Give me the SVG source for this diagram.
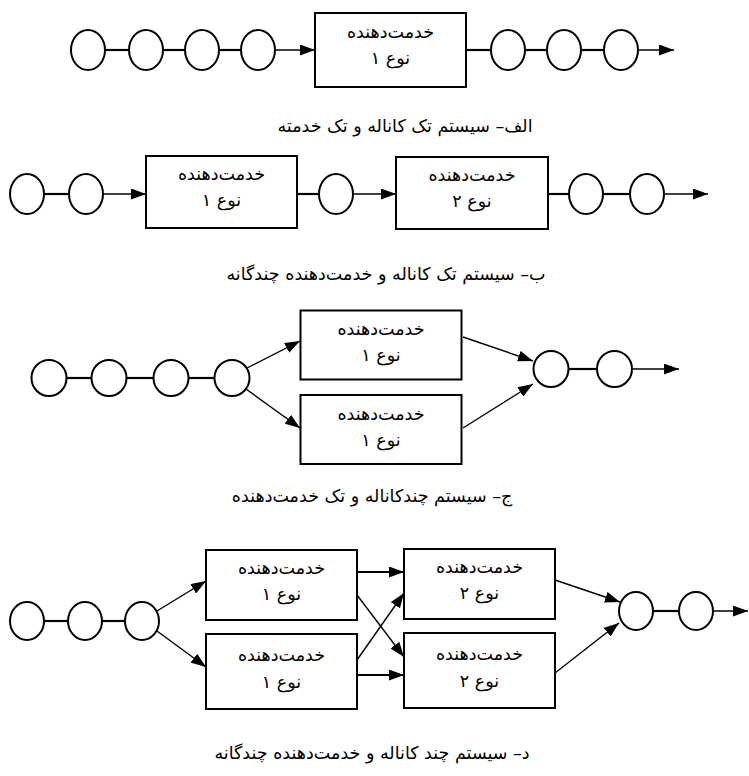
<svg xmlns="http://www.w3.org/2000/svg" width="749" height="776" viewBox="0 0 749 776">
<style>
.c{fill:#fff;stroke:#000;stroke-width:2}
.b{fill:#fff;stroke:#000;stroke-width:2}
.l{stroke:#000;stroke-width:2.2;fill:none}
.a{stroke:#000;stroke-width:1.4;fill:none;marker-end:url(#ah)}
.ah2{stroke:#000;stroke-width:2.2;fill:none;marker-end:url(#ah)}
.t{font-family:"DejaVu Sans","Noto Sans",sans-serif;font-size:17.5px;fill:#000;text-anchor:middle;direction:rtl;unicode-bidi:embed}
.cap{font-family:"DejaVu Sans","Noto Sans",sans-serif;font-size:17.5px;fill:#000;text-anchor:middle;direction:rtl;unicode-bidi:embed}
</style>
<defs>
<marker id="ah" markerUnits="userSpaceOnUse" viewBox="0 0 15 11" markerWidth="15" markerHeight="11" refX="15" refY="5.5" orient="auto">
<path d="M0,0 L15,5.5 L0,11 z" fill="#000"/>
</marker>
</defs>
<rect width="749" height="776" fill="#fff"/>

<!-- Section A -->
<g id="connectors-a">
<line class="l" x1="105" y1="50" x2="129" y2="50"/>
<line class="l" x1="163" y1="50" x2="185" y2="50"/>
<line class="l" x1="219" y1="50" x2="241" y2="50"/>
<line class="a" x1="275" y1="50" x2="315" y2="50"/>
<line class="l" x1="466" y1="50" x2="491" y2="50"/>
<line class="l" x1="525" y1="50" x2="547" y2="50"/>
<line class="l" x1="581" y1="50" x2="604" y2="50"/>
<line class="a" x1="638" y1="50" x2="674" y2="50"/>
</g>
<g id="a-q1"><ellipse class="c" cx="88" cy="50" rx="17" ry="20"/></g>
<g id="a-q2"><ellipse class="c" cx="146" cy="50" rx="17" ry="20"/></g>
<g id="a-q3"><ellipse class="c" cx="202" cy="50" rx="17" ry="20"/></g>
<g id="a-q4"><ellipse class="c" cx="258" cy="50" rx="17" ry="20"/></g>
<g id="a-server"><rect class="b" x="315" y="13" width="151" height="74"/>
<text class="t" x="390.5" y="38">خدمت‌دهنده</text><text class="t" x="390.5" y="64">نوع ۱</text></g>
<g id="a-o1"><ellipse class="c" cx="508" cy="50" rx="17" ry="20"/></g>
<g id="a-o2"><ellipse class="c" cx="564" cy="50" rx="17" ry="20"/></g>
<g id="a-o3"><ellipse class="c" cx="621" cy="50" rx="17" ry="20"/></g>
<text class="cap" x="405" y="132">الف– سیستم تک کاناله و تک خدمته</text>

<!-- Section B -->
<g id="connectors-b">
<line class="l" x1="44" y1="194" x2="69" y2="194"/>
<line class="a" x1="103" y1="194" x2="146" y2="194"/>
<line class="l" x1="297" y1="194" x2="319" y2="194"/>
<line class="a" x1="353" y1="194" x2="396" y2="194"/>
<line class="l" x1="548" y1="194" x2="569" y2="194"/>
<line class="l" x1="603" y1="194" x2="630" y2="194"/>
<line class="a" x1="664" y1="194" x2="708" y2="194"/>
</g>
<g id="b-q1"><ellipse class="c" cx="27" cy="194" rx="17" ry="20"/></g>
<g id="b-q2"><ellipse class="c" cx="86" cy="194" rx="17" ry="20"/></g>
<g id="b-server1"><rect class="b" x="146" y="156" width="151" height="72"/>
<text class="t" x="221.5" y="180">خدمت‌دهنده</text><text class="t" x="221.5" y="206">نوع ۱</text></g>
<g id="b-q3"><ellipse class="c" cx="336" cy="194" rx="17" ry="20"/></g>
<g id="b-server2"><rect class="b" x="396" y="157" width="152" height="72"/>
<text class="t" x="472" y="181">خدمت‌دهنده</text><text class="t" x="472" y="207">نوع ۲</text></g>
<g id="b-o1"><ellipse class="c" cx="586" cy="194" rx="17" ry="20"/></g>
<g id="b-o2"><ellipse class="c" cx="647" cy="194" rx="17" ry="20"/></g>
<text class="cap" x="386" y="280">ب– سیستم تک کاناله و خدمت‌دهنده چندگانه</text>

<!-- Section C -->
<g id="connectors-c">
<line class="l" x1="66.5" y1="378" x2="91.5" y2="378"/>
<line class="l" x1="126.5" y1="378" x2="153.5" y2="378"/>
<line class="l" x1="188.5" y1="378" x2="214.5" y2="378"/>
<line class="a" x1="247" y1="368" x2="300" y2="341"/>
<line class="a" x1="246" y1="389" x2="300" y2="428"/>
<line class="a" x1="463" y1="337" x2="533" y2="361"/>
<line class="a" x1="463" y1="428" x2="533" y2="384"/>
<line class="l" x1="568.5" y1="369" x2="597" y2="369"/>
<line class="a" x1="632" y1="369" x2="679" y2="369"/>
</g>
<g id="c-q1"><ellipse class="c" cx="49" cy="378" rx="17.5" ry="18"/></g>
<g id="c-q2"><ellipse class="c" cx="109" cy="378" rx="17.5" ry="18"/></g>
<g id="c-q3"><ellipse class="c" cx="171" cy="378" rx="17.5" ry="18"/></g>
<g id="c-q4"><ellipse class="c" cx="232" cy="378" rx="17.5" ry="18"/></g>
<g id="c-server1"><rect class="b" x="300.5" y="310.5" width="161" height="69"/>
<text class="t" x="381" y="335">خدمت‌دهنده</text><text class="t" x="381" y="361">نوع ۱</text></g>
<g id="c-server2"><rect class="b" x="300.5" y="395" width="161" height="69"/>
<text class="t" x="381" y="420">خدمت‌دهنده</text><text class="t" x="381" y="446">نوع ۱</text></g>
<g id="c-o1"><ellipse class="c" cx="551" cy="369" rx="17.5" ry="18"/></g>
<g id="c-o2"><ellipse class="c" cx="614.5" cy="369" rx="17.5" ry="18"/></g>
<text class="cap" x="372" y="502">ج– سیستم چندکاناله و تک خدمت‌دهنده</text>

<!-- Section D -->
<g id="connectors-d">
<line class="l" x1="44" y1="621" x2="68" y2="621"/>
<line class="l" x1="102" y1="621" x2="125" y2="621"/>
<line class="a" x1="157" y1="611" x2="206" y2="581"/>
<line class="a" x1="157" y1="631" x2="206" y2="667"/>
<line class="ah2" x1="357" y1="572" x2="404" y2="572"/>
<line class="ah2" x1="357" y1="675" x2="404" y2="675"/>
<line class="a" x1="357" y1="595" x2="404" y2="657"/>
<line class="a" x1="357" y1="660" x2="404" y2="593"/>
<line class="a" x1="555" y1="580" x2="620" y2="602"/>
<line class="a" x1="555" y1="673" x2="619" y2="623"/>
<line class="l" x1="653" y1="611" x2="679" y2="611"/>
<line class="a" x1="713" y1="611" x2="748" y2="611"/>
</g>
<g id="d-q1"><ellipse class="c" cx="27" cy="621" rx="17" ry="19"/></g>
<g id="d-q2"><ellipse class="c" cx="85" cy="621" rx="17" ry="19"/></g>
<g id="d-q3"><ellipse class="c" cx="142" cy="621" rx="17" ry="19"/></g>
<g id="d-server1a"><rect class="b" x="206" y="550" width="151" height="70"/>
<text class="t" x="281.5" y="574">خدمت‌دهنده</text><text class="t" x="281.5" y="600">نوع ۱</text></g>
<g id="d-server1b"><rect class="b" x="206" y="634" width="151" height="75"/>
<text class="t" x="281.5" y="661">خدمت‌دهنده</text><text class="t" x="281.5" y="688">نوع ۱</text></g>
<g id="d-server2a"><rect class="b" x="404" y="549" width="151" height="70"/>
<text class="t" x="479.5" y="573">خدمت‌دهنده</text><text class="t" x="479.5" y="599">نوع ۲</text></g>
<g id="d-server2b"><rect class="b" x="404" y="633" width="151" height="75"/>
<text class="t" x="479.5" y="660">خدمت‌دهنده</text><text class="t" x="479.5" y="687">نوع ۲</text></g>
<g id="d-o1"><ellipse class="c" cx="636" cy="611" rx="17" ry="19"/></g>
<g id="d-o2"><ellipse class="c" cx="696" cy="611" rx="17" ry="19"/></g>
<text class="cap" x="372" y="759">د– سیستم چند کاناله و خدمت‌دهنده چندگانه</text>
</svg>
